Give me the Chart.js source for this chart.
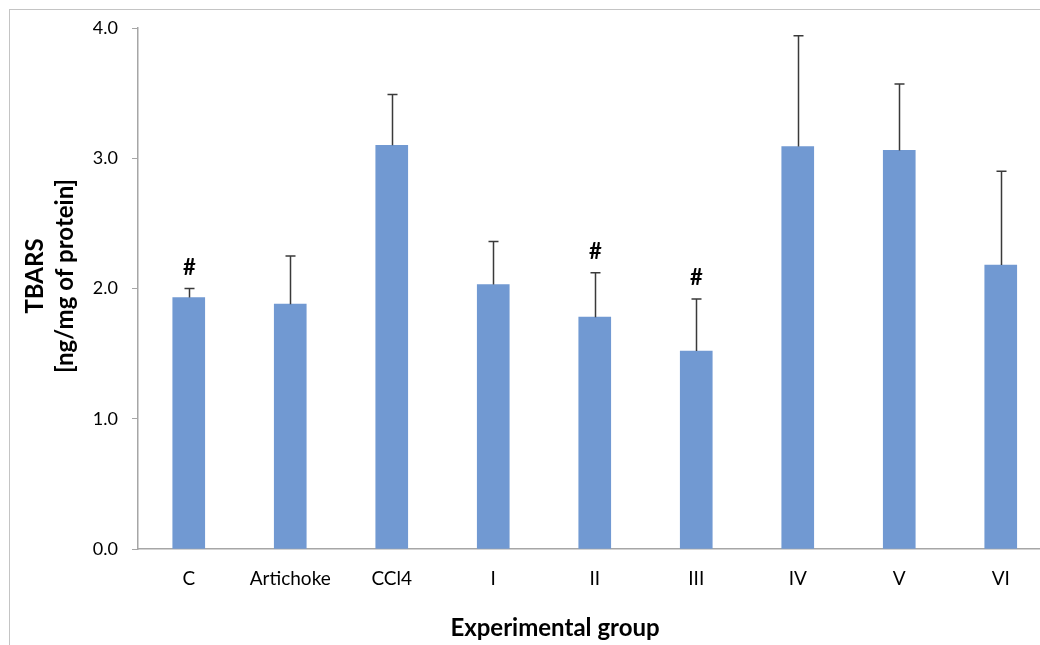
<!DOCTYPE html>
<html>
<head>
<meta charset="utf-8">
<script src="https://cdn.jsdelivr.net/npm/chart.js@4.4.1/dist/chart.umd.min.js"></script>
<style>
  html, body { margin: 0; padding: 0; background: #fff; overflow: hidden; }
  #wrap { position: relative; width: 1060px; height: 645px; }
</style>
</head>
<body>
<div id="wrap"><canvas id="chart" width="1060" height="645"></canvas></div>
<script>
// Experimental groups and TBARS means with upper standard deviation
const groups = ['C', 'Artichoke', 'CCl4', 'I', 'II', 'III', 'IV', 'V', 'VI'];
const tbarsMean = [1.93, 1.88, 3.10, 2.03, 1.78, 1.52, 3.09, 3.06, 2.18];
const tbarsSD = [0.07, 0.37, 0.39, 0.33, 0.34, 0.40, 0.85, 0.51, 0.72];
const significance = ['#', '', '', '', '#', '#', '', '', ''];
const yTicks = [0, 1, 2, 3, 4];

const FONT = 'Lato, "Open Sans", sans-serif';

// Outer frame around the figure
const framePlugin = {
  id: 'frame',
  beforeDraw(chart) {
    const ctx = chart.ctx;
    ctx.save();
    ctx.strokeStyle = '#c4c4c4';
    ctx.lineWidth = 1;
    ctx.strokeRect(9.5, 9.5, 1200, 800);
    ctx.restore();
  }
};

// Upper error bars and significance marks
const errorBarPlugin = {
  id: 'errorBars',
  afterDatasetsDraw(chart) {
    const ctx = chart.ctx;
    const y = chart.scales.y;
    const meta = chart.getDatasetMeta(0);
    ctx.save();
    meta.data.forEach((bar, i) => {
      const x = Math.round(bar.x) + 0.5;
      const top = y.getPixelForValue(tbarsMean[i]);
      const hi = y.getPixelForValue(tbarsMean[i] + tbarsSD[i]);
      ctx.strokeStyle = '#3a3a3a';
      ctx.lineWidth = 1.5;
      ctx.beginPath();
      ctx.moveTo(x, top);
      ctx.lineTo(x, hi);
      ctx.moveTo(x - 5, hi);
      ctx.lineTo(x + 5, hi);
      ctx.stroke();
      if (significance[i]) {
        ctx.fillStyle = '#000';
        ctx.font = 'bold 22px ' + FONT;
        ctx.textAlign = 'center';
        ctx.textBaseline = 'alphabetic';
        ctx.fillText(significance[i], x, hi - 14);
      }
    });
    ctx.restore();
  }
};

// Axis titles
const axisTitlePlugin = {
  id: 'axisTitles',
  afterDraw(chart) {
    const ctx = chart.ctx;
    ctx.save();
    ctx.fillStyle = '#000';
    ctx.font = 'bold 24px ' + FONT;
    ctx.textAlign = 'center';
    ctx.textBaseline = 'middle';
    ctx.fillText('Experimental group', 555, 628);
    ctx.translate(0, 276);
    ctx.rotate(-Math.PI / 2);
    ctx.fillText('TBARS', 0, 35);
    ctx.fillText('[ng/mg of protein]', 0, 65);
    ctx.restore();
  }
};

new Chart(document.getElementById('chart'), {
  type: 'bar',
  data: {
    labels: groups,
    datasets: [{
      data: tbarsMean,
      backgroundColor: '#7199d2',
      borderWidth: 0,
      barThickness: 32
    }]
  },
  options: {
    responsive: false,
    animation: false,
    layout: { padding: { top: 28, right: 8.5, left: 0, bottom: 0 } },
    plugins: { legend: { display: false }, tooltip: { enabled: false } },
    scales: {
      x: {
        grid: { display: true, drawOnChartArea: false, drawTicks: false },
        border: { color: '#a6a6a6', width: 1.5 },
        ticks: { color: '#000', font: { family: FONT, size: 19 }, padding: 18, maxRotation: 0 },
        afterFit(scale) { scale.height = 96; }
      },
      y: {
        min: 0,
        max: 4,
        afterBuildTicks(scale) { scale.ticks = yTicks.map(v => ({ value: v })); },
        grid: { drawOnChartArea: false, drawTicks: true, tickLength: 6, color: '#a6a6a6' },
        border: { color: '#a6a6a6', width: 1.5 },
        ticks: { color: '#000', font: { family: FONT, size: 18 }, padding: 14,
                 callback: v => v.toFixed(1) },
        afterFit(scale) { scale.width = 138; }
      }
    }
  },
  plugins: [framePlugin, errorBarPlugin, axisTitlePlugin]
});
</script>
</body>
</html>
